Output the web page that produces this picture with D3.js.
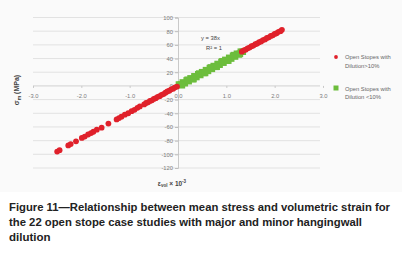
<!DOCTYPE html>
<html><head><meta charset="utf-8">
<script src="https://cdn.jsdelivr.net/npm/d3@7/dist/d3.min.js"></script>
<style>body{margin:0;background:#fff}svg{display:block}</style>
</head><body>
<svg id="c" width="417" height="260"></svg>
<script>
// Data
const xTicks = [-3, -2, -1, 0, 1, 2, 3];
const xTickLabels = ["-3.0", "-2.0", "-1.0", "0.0", "1.0", "2.0", "3.0"];
const yTicks = [100, 80, 60, 40, 20, 0, -20, -40, -60, -80, -100, -120];
const yTickLabels = ["100", "80", "60", "40", "20", "0", "-20", "-40", "-60", "-80", "-100", "-120"];

const redX = [-2.50, -2.45, -2.27, -2.22, -2.11, -1.99, -1.93, -1.86, -1.80, -1.75, -1.68, -1.58, -1.44, -1.27, -1.22, -1.17, -1.10, -1.03, -0.96, -0.90, -0.84, -0.79,
  -0.70, -0.66, -0.62, -0.58, -0.54, -0.50, -0.46, -0.42, -0.38, -0.34, -0.30, -0.26, -0.22, -0.18, -0.14, -0.10, -0.06, -0.02,
  1.32, 1.36, 1.40, 1.44, 1.48, 1.52, 1.56, 1.60, 1.64, 1.68, 1.72, 1.76, 1.80, 1.84, 1.88, 1.92, 1.96, 2.00, 2.04, 2.08, 2.12, 2.15];
const redY = [-96, -94, -87, -85, -81, -76, -74, -71, -69, -67, -64, -61, -55, -49, -47, -45, -42, -40, -37, -35, -32, -30,
  -27, -25, -24, -22, -21, -19, -18, -16, -15, -13, -12, -10, -8, -7, -5, -4, -2, -1,
  50, 52, 53, 55, 56, 58, 59, 61, 62, 64, 65, 67, 68, 70, 71, 73, 74, 76, 77, 79, 80, 82];

const greenX = [0.02, 0.06, 0.10, 0.14, 0.18, 0.22, 0.26, 0.30, 0.34, 0.38, 0.42, 0.46, 0.50, 0.54, 0.58, 0.62, 0.66, 0.70,
  0.74, 0.78, 0.82, 0.86, 0.90, 0.94, 0.98, 1.02, 1.06, 1.10, 1.14, 1.18, 1.22, 1.26, 1.30, 1.34,
  0.08, 0.20, 0.32, 0.44, 0.56, 0.68, 0.80, 0.92, 1.04, 1.16, 1.28];
const greenY = [2, 2, 5, 4, 8, 7, 11, 10, 14, 13, 17, 16, 20, 19, 23, 22, 26, 25,
  29, 28, 32, 31, 35, 34, 38, 37, 41, 40, 44, 43, 47, 46, 50, 50,
  1, 9, 10, 18, 19, 27, 28, 36, 37, 45, 47];

const equationText = ["y = 38x", "R² = 1"];
const legendLabels = [["Open Stopes with", "Dilution>10%"], ["Open Stopes with", "Dilution <10%"]];
const captionLines = [
  "Figure 11\u2014Relationship between mean stress and volumetric strain for",
  "the 22 open stope case studies with major and minor hangingwall",
  "dilution"
];

const RED = "#e0212b", GREEN = "#6cbd3c";
const FONT = "Liberation Sans, Arial, sans-serif";
const svg = d3.select("#c");
svg.append("rect").attr("x", 0).attr("y", 0).attr("width", 402).attr("height", 192).attr("fill", "#fafafa");

const x = d3.scaleLinear().domain([-3, 3]).range([33, 323]);
const y = d3.scaleLinear().domain([-120, 100]).range([168, 17.5]);

// gridlines
svg.append("g").selectAll("line").data(yTicks).join("line")
  .attr("x1", x(-3)).attr("x2", 320)
  .attr("y1", d => y(d)).attr("y2", d => y(d))
  .attr("stroke", d => d === 0 ? "#c8c8c8" : "#dcdcdc").attr("stroke-width", 0.8);

// vertical axis at x = 0
const yAxis = d3.axisLeft(y).tickValues(yTicks).tickFormat((d, i) => yTickLabels[i]).tickSize(3).tickPadding(2);
const gy = svg.append("g").attr("transform", `translate(${x(0)},0)`).call(yAxis);
gy.select(".domain").attr("stroke", "#bdbdbd").attr("stroke-width", 0.8);
gy.selectAll(".tick line").attr("stroke", "#bdbdbd");
gy.selectAll(".tick text").attr("fill", "#7a7a7a").attr("font-size", "5.8px").attr("font-family", FONT);

// horizontal axis at y = 0
const xAxis = d3.axisBottom(x).tickValues(xTicks).tickFormat((d, i) => xTickLabels[i]).tickSize(2).tickPadding(6);
const gx = svg.append("g").attr("transform", `translate(0,${y(0)})`).call(xAxis);
gx.select(".domain").remove();
gx.selectAll(".tick line").attr("stroke", "#c8c8c8");
gx.selectAll(".tick text").attr("fill", "#7a7a7a").attr("font-size", "5.8px").attr("font-family", FONT);

// points
svg.append("g").selectAll("rect").data(greenX).join("rect")
  .attr("x", (d, i) => x(d) - 3.3).attr("y", (d, i) => y(greenY[i]) - 3.3)
  .attr("width", 6.6).attr("height", 6.6).attr("fill", GREEN);
svg.append("g").selectAll("circle").data(redX).join("circle")
  .attr("cx", d => x(d)).attr("cy", (d, i) => y(redY[i])).attr("r", 2.9).attr("fill", RED);

// equation
svg.append("text").attr("x", 201).attr("y", 40).text(equationText[0])
  .attr("font-size", "5.8px").attr("fill", "#444").attr("font-family", FONT);
svg.append("text").attr("x", 206).attr("y", 50).text(equationText[1])
  .attr("font-size", "5.8px").attr("fill", "#444").attr("font-family", FONT);

// legend
const lg = svg.append("g").attr("font-family", FONT).attr("font-size", "5.8px").attr("fill", "#666");
lg.append("circle").attr("cx", 336).attr("cy", 57).attr("r", 1.9).attr("fill", RED);
lg.append("rect").attr("x", 333.5).attr("y", 85.5).attr("width", 5).attr("height", 5).attr("fill", GREEN);
legendLabels.forEach((lines, k) => {
  lines.forEach((t, j) => {
    lg.append("text").attr("x", 345).attr("y", (k === 0 ? 59 : 90.5) + j * 8.5).text(t);
  });
});

// axis titles
const yt = svg.append("text").attr("transform", "translate(19,90) rotate(-90)").attr("text-anchor", "middle")
  .attr("font-family", FONT).attr("font-size", "7px").attr("font-weight", "bold").attr("fill", "#444");
yt.append("tspan").text("σ");
yt.append("tspan").attr("font-size", "5px").attr("dy", 1.5).text("m");
yt.append("tspan").attr("dy", -1.5).text(" (MPa)");

const xt = svg.append("text").attr("x", 172).attr("y", 185.5).attr("text-anchor", "middle")
  .attr("font-family", FONT).attr("font-size", "6.5px").attr("font-weight", "bold").attr("fill", "#444");
xt.append("tspan").text("ε");
xt.append("tspan").attr("font-size", "4.5px").attr("dy", 1.3).text("vol");
xt.append("tspan").attr("dy", -1.3).text(" × 10");
xt.append("tspan").attr("font-size", "4.5px").attr("dy", -2.5).text("-3");

// caption
const capW = [381, 353, null];
captionLines.forEach((t, i) => {
  const el = svg.append("text").attr("x", 9).attr("y", 211 + i * 15).text(t)
    .attr("font-family", FONT).attr("font-size", "11.5px").attr("font-weight", "bold").attr("fill", "#222");
  if (capW[i]) el.attr("textLength", capW[i]).attr("lengthAdjust", "spacingAndGlyphs");
});
</script>
</body></html>
